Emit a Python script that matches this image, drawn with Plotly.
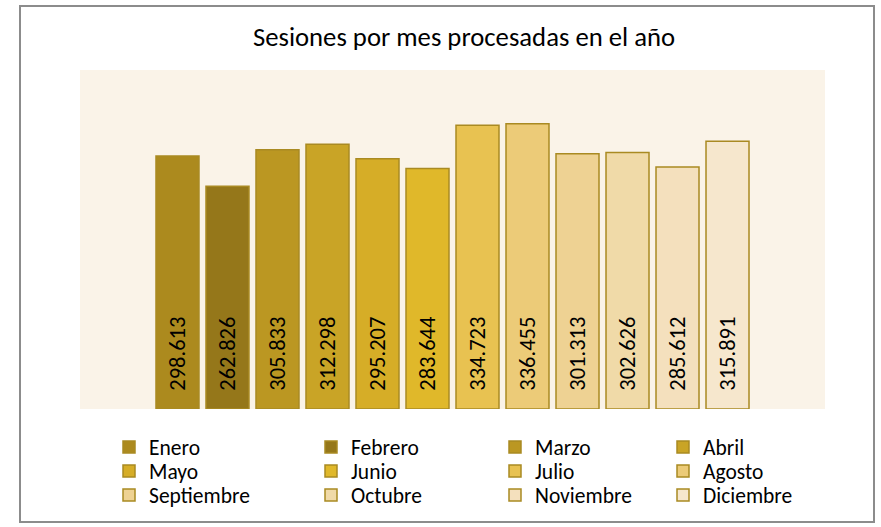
import plotly.graph_objects as go

months = ["Enero", "Febrero", "Marzo", "Abril", "Mayo", "Junio", "Julio",
          "Agosto", "Septiembre", "Octubre", "Noviembre", "Diciembre"]
sessions = [298613, 262826, 305833, 312298, 295207, 283644, 334723,
            336455, 301313, 302626, 285612, 315891]
colors = ["#AC8A1E", "#95771A", "#BB9722", "#C9A426", "#D6AD27", "#E0B82A",
          "#E8C251", "#ECCB78", "#EED293", "#F0DAA8", "#F4E0BD", "#F6E7CD"]

FONT = "Carlito, 'Liberation Sans', Arial, sans-serif"

# plot area in screen pixels
L, R, T, B = 80, 825, 70, 409
W, H = 881, 527
def px(x):
    return (x - L) / (R - L)
def py(y):
    return (B - y) / (B - T)

fig = go.Figure()
legend_cols = [109, 311, 495, 663]
legend_rows = [447, 471, 495]
layout_legends = {}
for i, (m, v, c) in enumerate(zip(months, sessions, colors)):
    lname = "legend" if i == 0 else f"legend{i+1}"
    fig.add_trace(go.Bar(
        x=[""], y=[v], name=m,
        marker=dict(color=c, line=dict(color="#A98A22", width=1.5)),
        texttemplate="\u00a0\u00a0\u00a0%{y:,}",
        textposition="inside", insidetextanchor="start", textangle=-90,
        textfont=dict(family=FONT, size=22.5, color="#000000"),
        constraintext="none",
        legend=lname,
    ))
    col, row = i % 4, i // 4
    layout_legends[lname] = dict(
        x=px(legend_cols[col]), y=py(legend_rows[row]),
        xanchor="left", yanchor="middle",
        bgcolor="rgba(0,0,0,0)", borderwidth=0,
        font=dict(family=FONT, size=21.5, color="#000000"),
        itemclick=False, itemdoubleclick=False,
    )

fig.update_layout(
    width=W, height=H,
    margin=dict(l=L, r=W - R, t=T, b=H - B, pad=0),
    paper_bgcolor="#FFFFFF",
    plot_bgcolor="#FAF3E8",
    separators=",.",
    barmode="group",
    bargap=0.1946,
    bargroupgap=0.14,
    showlegend=True,
    title=dict(text="Sesiones por mes procesadas en el año",
               xref="paper", x=px(464), xanchor="center",
               y=1 - 37 / H, yanchor="middle",
               font=dict(family=FONT, size=26.7, color="#000000")),
    xaxis=dict(showticklabels=False, showgrid=False, zeroline=False,
               showline=False, ticks=""),
    yaxis=dict(range=[0, 400000], showticklabels=False, showgrid=False,
               zeroline=False, showline=False, ticks=""),
    shapes=[dict(type="rect", xref="paper", yref="paper",
                 x0=px(20), x1=px(874), y0=py(522), y1=py(6),
                 line=dict(color="#8C8C8C", width=2), fillcolor="rgba(0,0,0,0)",
                 layer="below")],
    **layout_legends,
)

fig.write_html("out.html",
               config={"displayModeBar": False},
               post_script="document.body.style.margin='0';document.body.style.overflow='hidden';")
